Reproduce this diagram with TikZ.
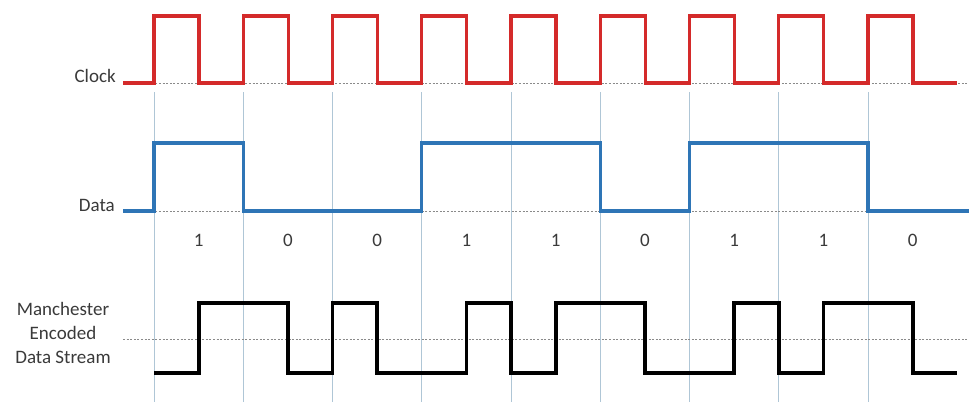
\documentclass[tikz,border=0pt]{standalone}
\usepackage{fontspec}
\setmainfont{Carlito}
\definecolor{clk}{HTML}{D42A2A}
\definecolor{dat}{HTML}{2E75B6}
\definecolor{grid}{HTML}{AFC6D6}
\definecolor{dotc}{HTML}{8A8A8A}
\definecolor{txt}{HTML}{3A3A3A}
\tikzset{
  wave/.style={line width=3.4pt, line join=miter},
  gridline/.style={grid, line width=0.9pt},
  refline/.style={dotc, line width=0.9pt, dash pattern=on 2pt off 1.6pt},
  lbl/.style={text=txt, font=\fontsize{19}{23}\selectfont, inner sep=0pt},
}
\begin{document}
\begin{tikzpicture}[x=1pt,y=-1pt]
\useasboundingbox (0,0) rectangle (969,402);
\fill[white] (0,0) rectangle (969,402);
% grid lines
\foreach \i in {0,...,8} {
  \draw[gridline] ({154+89.25*\i},92) -- ({154+89.25*\i},402);
}
% reference lines
\draw[refline] (123,83) -- (969,83);
\draw[refline] (123,211) -- (969,211);
\draw[refline] (123,339) -- (969,339);
% clock
\draw[wave, clk] (123,83)
  \foreach \i in {0,...,8} { -- ({154+89.25*\i},83) -- ({154+89.25*\i},16) -- ({199+89.25*\i},16) -- ({199+89.25*\i},83) }
  -- (957,83);
% data
\draw[wave, dat] (123,211) -- (154,211) -- (154,143) -- (243.25,143) -- (243.25,211)
  -- (421.75,211) -- (421.75,143) -- (600.25,143) -- (600.25,211)
  -- (689.5,211) -- (689.5,143) -- (868,143) -- (868,211) -- (969,211);
% manchester
\draw[wave, black, line width=3.8pt] (154,373) -- (198.6,373) -- (198.6,303) -- (287.9,303) -- (287.9,373)
  -- (332.5,373) -- (332.5,303) -- (377.1,303) -- (377.1,373) -- (466.4,373) -- (466.4,303)
  -- (511,303) -- (511,373) -- (555.6,373) -- (555.6,303) -- (644.9,303) -- (644.9,373)
  -- (734.1,373) -- (734.1,303) -- (778.75,303) -- (778.75,373) -- (823.4,373) -- (823.4,303)
  -- (912.6,303) -- (912.6,373) -- (957,373);
% labels
\node[lbl, anchor=east] (clock) at (116,76) {Clock};
\node[lbl, anchor=east] (data) at (115,205) {Data};
\node[lbl, align=center, font=\fontsize{19}{24}\selectfont] (manch) at (63,333) {Manchester\\Encoded\\Data Stream};
% bits
\foreach \b [count=\i from 0] in {1,0,0,1,1,0,1,1,0} {
  \node[lbl] (bit\i) at ({198.6+89.25*\i},240) {\b};
}
\end{tikzpicture}
\end{document}
